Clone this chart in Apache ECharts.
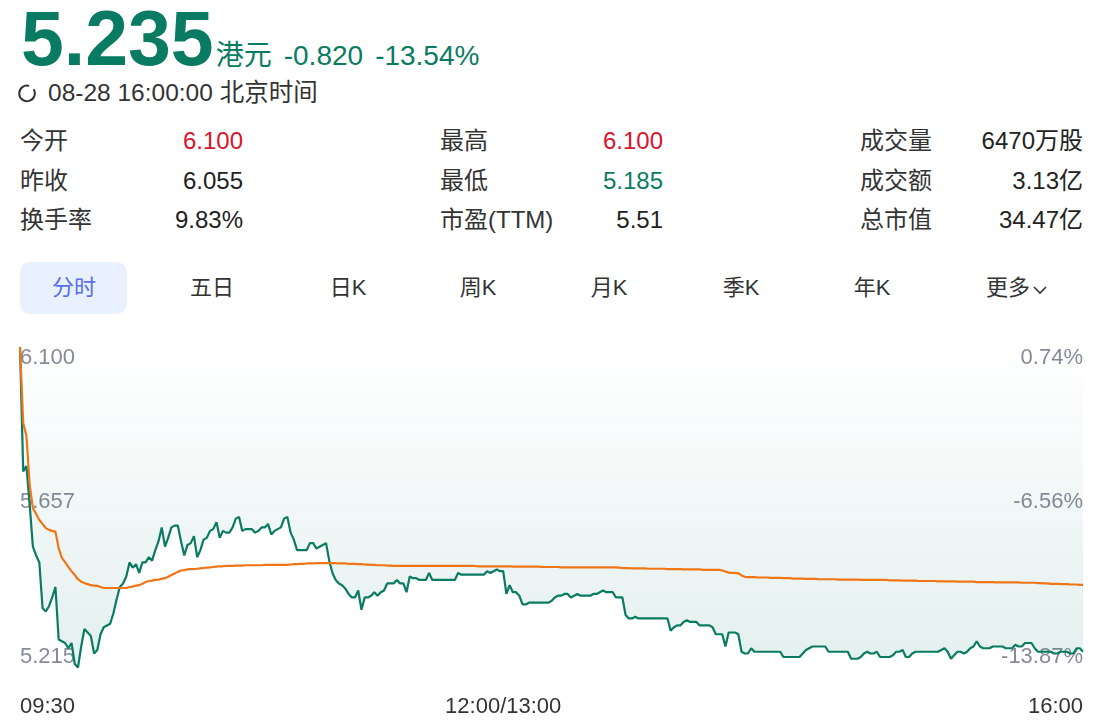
<!DOCTYPE html>
<html>
<head>
<meta charset="utf-8">
<title>分时</title>
<script src="https://cdn.jsdelivr.net/npm/echarts/dist/echarts.min.js"></script>
<style>
  html, body { margin: 0; padding: 0; background: #fff; }
  body {
    width: 1103px; height: 726px; overflow: hidden; position: relative;
    font-family: "Liberation Sans", Arial, "Noto Sans CJK SC", sans-serif; color: #333;
  }
  .abs { position: absolute; white-space: nowrap; }
  #quote { left: 21px; top: 0; display: flex; align-items: baseline; line-height: 76px; color: #0a7b63; }
  #quote .big { font-size: 77px; font-weight: bold; }
  #quote .unit { font-size: 28px; margin-left: 2px; }
  #quote .chg { font-size: 28px; margin-left: 12px; }
  #time { left: 18px; top: 79px; height: 28px; line-height: 28px; font-size: 24.5px; display: flex; align-items: center; }
  #time svg { margin-right: 11px; }
  .row { height: 40px; line-height: 40px; font-size: 24px; }
  .lab { color: #333; }
  .val { color: #222; text-align: right; }
  .up { color: #d8142c; }
  .down { color: #0a7b63; }
  #tabOn { left: 20px; top: 262px; width: 107px; height: 52px; border-radius: 10px; background: #e8f1fd; }
  .tab { top: 268px; height: 40px; line-height: 40px; font-size: 22px; color: #333; transform: translateX(-50%); }
  .tab.on { color: #5a6ef0; }
  #chart { position: absolute; left: 0; top: 330px; width: 1103px; height: 396px; }
</style>
</head>
<body>
<div id="quote" class="abs">
  <span class="big">5.235</span><span class="unit">港元</span><span class="chg">-0.820</span><span class="chg">-13.54%</span>
</div>
<div id="time" class="abs">
  <svg width="19" height="19" viewBox="0 0 19 19"><path d="M15.6 5.2 A7.8 7.8 0 1 1 11.2 1.9" fill="none" stroke="#333" stroke-width="2"/></svg>
  <span>08-28 16:00:00 北京时间</span>
</div>

<div class="abs row lab" style="left:20px;top:121px">今开</div>
<div class="abs row lab" style="left:20px;top:161px">昨收</div>
<div class="abs row lab" style="left:20px;top:200px">换手率</div>
<div class="abs row val up" style="right:860px;top:121px">6.100</div>
<div class="abs row val" style="right:860px;top:161px">6.055</div>
<div class="abs row val" style="right:860px;top:200px">9.83%</div>

<div class="abs row lab" style="left:440px;top:121px">最高</div>
<div class="abs row lab" style="left:440px;top:161px">最低</div>
<div class="abs row lab" style="left:440px;top:200px">市盈(TTM)</div>
<div class="abs row val up" style="right:440px;top:121px">6.100</div>
<div class="abs row val down" style="right:440px;top:161px">5.185</div>
<div class="abs row val" style="right:440px;top:200px">5.51</div>

<div class="abs row lab" style="left:860px;top:121px">成交量</div>
<div class="abs row lab" style="left:860px;top:161px">成交额</div>
<div class="abs row lab" style="left:860px;top:200px">总市值</div>
<div class="abs row val" style="right:20px;top:121px">6470万股</div>
<div class="abs row val" style="right:20px;top:161px">3.13亿</div>
<div class="abs row val" style="right:20px;top:200px">34.47亿</div>

<div id="tabOn" class="abs"></div>
<div class="abs tab on" style="left:74px">分时</div>
<div class="abs tab" style="left:212px">五日</div>
<div class="abs tab" style="left:348px">日K</div>
<div class="abs tab" style="left:478px">周K</div>
<div class="abs tab" style="left:609px">月K</div>
<div class="abs tab" style="left:741px">季K</div>
<div class="abs tab" style="left:872px">年K</div>
<div class="abs tab" style="left:1017px">更多<svg width="16" height="10" viewBox="0 0 16 10" style="margin-left:2px"><path d="M2 2 L8 8 L14 2" fill="none" stroke="#333" stroke-width="1.6"/></svg></div>

<div id="chart"></div>

<script>
// 昨收
var preClose = 6.055;

// 纵轴刻度
var tickValues = [5.215, 5.6575, 6.100];
var priceTickLabels = ['5.215', '5.657', '6.100'];
var pctTickLabels = ['-13.87%', '-6.56%', '0.74%'];

// 横轴刻度 (分钟序号 -> 文字)
var timeTickIndex = [0, 150, 330];
var timeTickLabels = ['09:30', '12:00/13:00', '16:00'];

// 分时价格
var price = [
  6.100, 5.745, 5.760, 5.650, 5.530, 5.505, 5.485, 5.355, 5.345, 5.360,
  5.385, 5.415, 5.265, 5.260, 5.255, 5.240, 5.255, 5.195, 5.185, 5.245,
  5.295, 5.285, 5.275, 5.225, 5.235, 5.280, 5.300, 5.305, 5.310, 5.340,
  5.380, 5.415, 5.425, 5.445, 5.485, 5.470, 5.480, 5.455, 5.485, 5.485,
  5.500, 5.490, 5.520, 5.545, 5.585, 5.530, 5.555, 5.585, 5.590, 5.590,
  5.545, 5.505, 5.535, 5.540, 5.560, 5.500, 5.520, 5.550, 5.555, 5.575,
  5.580, 5.600, 5.555, 5.575, 5.570, 5.570, 5.585, 5.610, 5.615, 5.575,
  5.580, 5.580, 5.580, 5.570, 5.575, 5.585, 5.585, 5.595, 5.565, 5.575,
  5.580, 5.585, 5.610, 5.615, 5.570, 5.550, 5.520, 5.520, 5.520, 5.520,
  5.540, 5.540, 5.525, 5.530, 5.535, 5.540, 5.490, 5.455, 5.435, 5.425,
  5.420, 5.410, 5.395, 5.385, 5.385, 5.405, 5.350, 5.385, 5.385, 5.390,
  5.400, 5.390, 5.400, 5.405, 5.425, 5.425, 5.425, 5.435, 5.425, 5.425,
  5.400, 5.445, 5.440, 5.440, 5.435, 5.435, 5.435, 5.455, 5.435, 5.435,
  5.435, 5.435, 5.435, 5.435, 5.435, 5.435, 5.455, 5.450, 5.450, 5.450,
  5.450, 5.450, 5.450, 5.450, 5.450, 5.460, 5.455, 5.460, 5.465, 5.460,
  5.460, 5.395, 5.420, 5.400, 5.400, 5.390, 5.365, 5.365, 5.370, 5.370,
  5.370, 5.370, 5.370, 5.370, 5.370, 5.375, 5.385, 5.390, 5.390, 5.395,
  5.395, 5.385, 5.390, 5.395, 5.390, 5.390, 5.390, 5.390, 5.395, 5.395,
  5.400, 5.405, 5.400, 5.400, 5.400, 5.385, 5.385, 5.385, 5.335, 5.325,
  5.325, 5.330, 5.325, 5.325, 5.325, 5.325, 5.325, 5.325, 5.325, 5.325,
  5.325, 5.325, 5.290, 5.300, 5.305, 5.305, 5.315, 5.320, 5.315, 5.315,
  5.315, 5.305, 5.305, 5.305, 5.305, 5.300, 5.280, 5.280, 5.280, 5.245,
  5.285, 5.285, 5.285, 5.280, 5.230, 5.225, 5.225, 5.240, 5.230, 5.230,
  5.230, 5.230, 5.230, 5.230, 5.230, 5.230, 5.230, 5.215, 5.215, 5.215,
  5.215, 5.215, 5.215, 5.225, 5.235, 5.240, 5.245, 5.245, 5.245, 5.245,
  5.245, 5.230, 5.230, 5.230, 5.230, 5.230, 5.230, 5.230, 5.210, 5.210,
  5.210, 5.215, 5.225, 5.230, 5.225, 5.225, 5.230, 5.215, 5.215, 5.215,
  5.215, 5.220, 5.230, 5.230, 5.235, 5.215, 5.215, 5.225, 5.230, 5.230,
  5.230, 5.230, 5.230, 5.230, 5.230, 5.230, 5.235, 5.240, 5.230, 5.210,
  5.220, 5.230, 5.230, 5.225, 5.230, 5.240, 5.245, 5.260, 5.245, 5.240,
  5.240, 5.240, 5.245, 5.245, 5.245, 5.245, 5.240, 5.240, 5.240, 5.250,
  5.245, 5.245, 5.255, 5.255, 5.255, 5.240, 5.230, 5.230, 5.230, 5.230,
  5.230, 5.225, 5.225, 5.230, 5.230, 5.230, 5.225, 5.225, 5.240, 5.240,
  5.230
];

// 均价
var avgPrice = [
  6.100, 5.883, 5.846, 5.706, 5.640, 5.623, 5.606, 5.595, 5.583, 5.578,
  5.575, 5.573, 5.526, 5.498, 5.486, 5.472, 5.460, 5.449, 5.437, 5.430,
  5.426, 5.423, 5.420, 5.419, 5.418, 5.415, 5.412, 5.412, 5.412, 5.412,
  5.412, 5.412, 5.412, 5.412, 5.415, 5.416, 5.419, 5.420, 5.424, 5.429,
  5.432, 5.433, 5.435, 5.436, 5.438, 5.440, 5.444, 5.449, 5.453, 5.458,
  5.462, 5.463, 5.465, 5.466, 5.466, 5.467, 5.468, 5.469, 5.470, 5.471,
  5.472, 5.473, 5.474, 5.474, 5.475, 5.475, 5.475, 5.476, 5.476, 5.476,
  5.477, 5.477, 5.477, 5.477, 5.477, 5.477, 5.478, 5.478, 5.478, 5.478,
  5.478, 5.478, 5.478, 5.478, 5.479, 5.480, 5.480, 5.481, 5.481, 5.482,
  5.482, 5.482, 5.483, 5.483, 5.483, 5.483, 5.483, 5.483, 5.483, 5.482,
  5.482, 5.482, 5.481, 5.481, 5.481, 5.480, 5.480, 5.479, 5.479, 5.478,
  5.478, 5.477, 5.477, 5.477, 5.476, 5.476, 5.475, 5.475, 5.475, 5.475,
  5.475, 5.475, 5.475, 5.475, 5.475, 5.475, 5.475, 5.475, 5.475, 5.475,
  5.475, 5.475, 5.475, 5.475, 5.475, 5.475, 5.475, 5.475, 5.475, 5.475,
  5.475, 5.475, 5.474, 5.474, 5.474, 5.474, 5.474, 5.474, 5.474, 5.474,
  5.474, 5.474, 5.474, 5.473, 5.473, 5.473, 5.473, 5.473, 5.473, 5.473,
  5.473, 5.473, 5.472, 5.472, 5.472, 5.472, 5.472, 5.472, 5.471, 5.471,
  5.471, 5.471, 5.471, 5.471, 5.471, 5.471, 5.471, 5.471, 5.471, 5.471,
  5.471, 5.471, 5.471, 5.471, 5.471, 5.471, 5.470, 5.469, 5.469, 5.469,
  5.468, 5.468, 5.468, 5.468, 5.468, 5.467, 5.467, 5.467, 5.467, 5.467,
  5.467, 5.466, 5.466, 5.466, 5.466, 5.466, 5.465, 5.465, 5.465, 5.465,
  5.465, 5.465, 5.464, 5.464, 5.464, 5.464, 5.464, 5.464, 5.462, 5.459,
  5.456, 5.455, 5.455, 5.454, 5.448, 5.444, 5.443, 5.443, 5.443, 5.442,
  5.442, 5.442, 5.442, 5.441, 5.441, 5.441, 5.441, 5.440, 5.440, 5.440,
  5.439, 5.439, 5.439, 5.439, 5.438, 5.438, 5.438, 5.438, 5.437, 5.437,
  5.437, 5.437, 5.437, 5.437, 5.436, 5.436, 5.436, 5.436, 5.436, 5.436,
  5.436, 5.435, 5.435, 5.435, 5.435, 5.435, 5.435, 5.435, 5.435, 5.435,
  5.434, 5.434, 5.434, 5.434, 5.433, 5.433, 5.433, 5.433, 5.433, 5.432,
  5.432, 5.432, 5.432, 5.432, 5.432, 5.431, 5.431, 5.431, 5.431, 5.431,
  5.431, 5.430, 5.430, 5.430, 5.430, 5.430, 5.430, 5.429, 5.429, 5.429,
  5.429, 5.429, 5.429, 5.428, 5.428, 5.428, 5.428, 5.428, 5.428, 5.428,
  5.428, 5.427, 5.427, 5.427, 5.427, 5.427, 5.426, 5.426, 5.425, 5.425,
  5.424, 5.424, 5.424, 5.423, 5.423, 5.423, 5.422, 5.422, 5.422, 5.421,
  5.421
];

// 交易分钟: 09:30-12:00, 13:01-16:00
var times = [];
function pushRange(h0, m0, h1, m1) {
  for (var t = h0 * 60 + m0; t <= h1 * 60 + m1; t++) {
    var h = Math.floor(t / 60), m = t % 60;
    times.push((h < 10 ? '0' : '') + h + ':' + (m < 10 ? '0' : '') + m);
  }
}
pushRange(9, 30, 12, 0);
pushRange(13, 1, 16, 0);

function tickText(list, v) {
  var best = 0;
  for (var i = 1; i < tickValues.length; i++) {
    if (Math.abs(tickValues[i] - v) < Math.abs(tickValues[best] - v)) best = i;
  }
  return list[best];
}

var green = '#0a7b63';
var axisLabelBase = {
  inside: true,
  margin: 0,
  color: '#878b98',
  fontSize: 22,
  fontFamily: 'Liberation Sans, Arial, sans-serif',
  customValues: tickValues,
  verticalAlignMaxLabel: 'top',
  showMinLabel: true,
  showMaxLabel: true
};

var myChart = echarts.init(document.getElementById('chart'));
var options = {
  animation: false,
  grid: { left: 20, right: 20, top: 17, bottom: 69 },
  xAxis: {
    type: 'category',
    data: times,
    boundaryGap: false,
    axisLine: { show: false },
    axisTick: { show: false },
    splitLine: { show: false },
    axisLabel: {
      color: '#333',
      fontSize: 22,
      fontFamily: 'Liberation Sans, Arial, sans-serif',
      margin: 39,
      showMinLabel: true,
      showMaxLabel: true,
      alignMinLabel: 'left',
      alignMaxLabel: 'right',
      interval: function (index) { return timeTickIndex.indexOf(index) >= 0; },
      formatter: function (value, index) {
        var k = timeTickIndex.indexOf(index);
        return k >= 0 ? timeTickLabels[k] : '';
      }
    }
  },
  yAxis: [{
    type: 'value',
    position: 'left',
    min: tickValues[0],
    max: tickValues[tickValues.length - 1],
    axisLine: { show: false },
    axisTick: { show: false },
    splitLine: { show: false },
    axisLabel: Object.assign({}, axisLabelBase, {
      formatter: function (v) { return tickText(priceTickLabels, v); }
    })
  }, {
    type: 'value',
    position: 'right',
    min: tickValues[0],
    max: tickValues[tickValues.length - 1],
    axisLine: { show: false },
    axisTick: { show: false },
    splitLine: { show: false },
    axisLabel: Object.assign({}, axisLabelBase, {
      formatter: function (v) { return tickText(pctTickLabels, v); }
    })
  }],
  series: [{
    name: '价格',
    type: 'line',
    data: price,
    symbol: 'none',
    clip: false,
    z: 2,
    lineStyle: { color: green, width: 2.2 },
    areaStyle: {
      origin: 'end',
      color: new echarts.graphic.LinearGradient(0, 0, 0, 1, [
        { offset: 0, color: 'rgba(10,123,99,0)' },
        { offset: 1, color: 'rgba(10,123,99,0.16)' }
      ])
    },
    markLine: {
      silent: true,
      symbol: ['none', 'none'],
      label: { show: false },
      lineStyle: { color: '#f3a2a2', type: [8, 5], width: 1.5 },
      data: [{ yAxis: tickValues[0] }]
    }
  }, {
    name: '均价',
    type: 'line',
    data: avgPrice,
    symbol: 'none',
    clip: false,
    z: 3,
    lineStyle: { color: '#f07516', width: 2.2 }
  }]
};
myChart.setOption(options);
</script>
</body>
</html>
